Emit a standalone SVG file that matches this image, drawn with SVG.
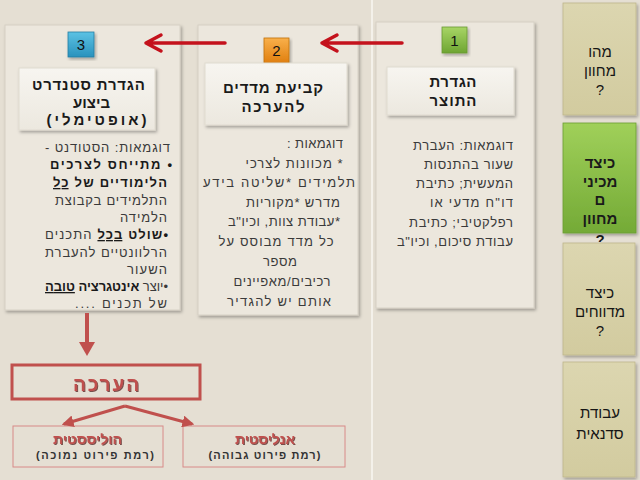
<svg xmlns="http://www.w3.org/2000/svg" width="640" height="480" viewBox="0 0 640 480">
<defs>
<style>
.t{font-family:"Liberation Sans","DejaVu Sans",Arial,sans-serif}
.r{direction:rtl;text-anchor:start}
.m{text-anchor:middle;direction:rtl}
.body{font-size:13px;fill:#3a3a3a}
.ttl{font-size:15px;font-weight:bold;fill:#1a1a1a}
.tab{font-size:15px;fill:#151515}
.num{font-size:15px;fill:#111;text-anchor:middle}
.b{font-weight:bold;fill:#1a1a1a}
.u{text-decoration:underline}
.red{fill:#c0504d;font-weight:bold}
.sub{font-size:11px;font-weight:bold;fill:#333}
.panel{fill:#ece7dd;stroke:#d6d0c4;stroke-width:1}
.tbox{fill:url(#gTitle);stroke:#e0dbd0;stroke-width:1}
.arrowTop{stroke:#c4121c;stroke-width:3.5;fill:none;stroke-linecap:round;stroke-linejoin:round}
.arrowB{stroke:#c0504d;stroke-width:3;fill:none}
</style>
<linearGradient id="gTitle" x1="0" y1="0" x2="0" y2="1">
<stop offset="0" stop-color="#f7f5f0"/><stop offset="1" stop-color="#ece8df"/>
</linearGradient>
<linearGradient id="gTab" x1="0" y1="0" x2="0" y2="1">
<stop offset="0" stop-color="#dcd6b0"/><stop offset="1" stop-color="#d2cb9f"/>
</linearGradient>
<linearGradient id="gGreenTab" x1="0" y1="0" x2="0" y2="1">
<stop offset="0" stop-color="#a0d05a"/><stop offset="1" stop-color="#74aa36"/>
</linearGradient>
<linearGradient id="gB1" x1="0" y1="0" x2="0" y2="1">
<stop offset="0" stop-color="#a8d566"/><stop offset="1" stop-color="#6ea532"/>
</linearGradient>
<linearGradient id="gB2" x1="0" y1="0" x2="0" y2="1">
<stop offset="0" stop-color="#f9b04a"/><stop offset="1" stop-color="#e07f10"/>
</linearGradient>
<linearGradient id="gB3" x1="0" y1="0" x2="0" y2="1">
<stop offset="0" stop-color="#5cc2e4"/><stop offset="1" stop-color="#2a92bd"/>
</linearGradient>
<filter id="sh" x="-10%" y="-10%" width="125%" height="125%">
<feDropShadow dx="1.5" dy="2" stdDeviation="1.5" flood-color="#000" flood-opacity="0.3"/>
</filter>
<filter id="tsh" x="-10%" y="-20%" width="130%" height="150%">
<feDropShadow dx="1" dy="1" stdDeviation="0.5" flood-color="#4a0c0c" flood-opacity="0.7"/>
</filter>
<marker id="mh" viewBox="0 0 10 10" refX="8" refY="5" markerWidth="4" markerHeight="4" orient="auto" markerUnits="strokeWidth">
<path d="M0,0 L10,5 L0,10 z" fill="#c0504d"/>
</marker>
</defs>

<rect x="0" y="0" width="640" height="480" fill="#e5dfd3"/>
<rect x="371" y="0" width="2" height="480" fill="#f4f1ea"/>

<!-- Column 1 -->
<g id="col1">
<rect class="panel" x="376" y="22" width="158" height="286" filter="url(#sh)"/>
<rect x="442" y="27" width="25" height="26" fill="url(#gB1)" stroke="#6a9a34" stroke-width="0.8" filter="url(#sh)"/>
<text class="t num" x="454.5" y="46">1</text>
<rect class="tbox" x="387" y="67" width="127" height="48" filter="url(#sh)"/>
<text class="t ttl m" x="453" y="87" textLength="47">הגדרת</text>
<text class="t ttl m" x="453" y="106" textLength="47">התוצר</text>
<text class="t body r" x="513" y="150" textLength="100">דוגמאות: העברת</text>
<text class="t body r" x="513" y="169" textLength="89">שעור בהתנסות</text>
<text class="t body r" x="513" y="188" textLength="97">המעשית; כתיבת</text>
<text class="t body r" x="513" y="207" textLength="83">דו"ח  מדעי או</text>
<text class="t body r" x="513" y="227" textLength="104">רפלקטיבי; כתיבת</text>
<text class="t body r" x="513" y="246" textLength="116">עבודת סיכום, וכיו"ב</text>
</g>

<!-- Column 2 -->
<g id="col2">
<rect class="panel" x="198" y="25" width="160" height="290" filter="url(#sh)"/>
<rect x="264" y="38" width="25" height="25" fill="url(#gB2)" stroke="#c0700c" stroke-width="0.8" filter="url(#sh)"/>
<text class="t num" x="276.5" y="56">2</text>
<rect class="tbox" x="205" y="63" width="142" height="62" filter="url(#sh)"/>
<text class="t ttl m" x="273" y="93" textLength="100">קביעת מדדים</text>
<text class="t ttl m" x="273" y="112" textLength="63">להערכה</text>
<text class="t body m" x="315" y="148" textLength="56">דוגמאות :</text>
<text class="t body m" x="294" y="168" textLength="97">* מכוונות לצרכי</text>
<text class="t body m" x="279" y="187" textLength="152">תלמידים *שליטה בידע</text>
<text class="t body m" x="293" y="207" textLength="94">מדרש  *מקוריות</text>
<text class="t body m" x="284" y="226" textLength="112">*עבודת צוות,  וכיו"ב</text>
<text class="t body m" x="276" y="246" textLength="115">כל מדד מבוסס על</text>
<text class="t body m" x="280" y="266" textLength="34">מספר</text>
<text class="t body m" x="282" y="286" textLength="97">רכיבים/מאפיינים</text>
<text class="t body m" x="279" y="306" textLength="104">אותם יש להגדיר</text>
</g>

<!-- Column 3 -->
<g id="col3">
<rect class="panel" x="5" y="25" width="175" height="285" filter="url(#sh)"/>
<rect x="68" y="32" width="26" height="25" fill="url(#gB3)" stroke="#237ea3" stroke-width="0.8" filter="url(#sh)"/>
<text class="t num" x="81" y="50">3</text>
<rect class="tbox" x="19" y="68" width="136" height="62" filter="url(#sh)"/>
<text class="t ttl m" x="88.5" y="90" textLength="113">הגדרת סטנדרט</text>
<text class="t ttl m" x="91.5" y="108" textLength="37">ביצוע</text>
<text class="t ttl m" x="96.5" y="125" textLength="100">(אופטימלי)</text>
<text class="t body r" x="170" y="152" textLength="125">דוגמאות: הסטודנט -</text>
<text class="t body r b" x="172" y="169" textLength="122">• מתייחס לצרכים</text>
<text class="t body r b" x="167" y="187" textLength="114">הלימודיים של <tspan class="u">כל</tspan></text>
<text class="t body r" x="167" y="205" textLength="112">התלמידים בקבוצת</text>
<text class="t body r" x="167" y="222" textLength="47">הלמידה</text>
<text class="t body r" x="168" y="239" textLength="123"><tspan class="b">•שולט <tspan class="u">בכל</tspan></tspan> התכנים</text>
<text class="t body r" x="167" y="257" textLength="122">הרלוונטיים להעברת</text>
<text class="t body r" x="167" y="274" textLength="40">השעור</text>
<text class="t body r" x="168" y="291" textLength="123">•יוצר  <tspan class="b">אינטגרציה <tspan class="u">טובה</tspan></tspan></text>
<text class="t body r" x="167" y="308" textLength="92">של תכנים ....</text>
</g>

<!-- Right tabs -->
<g id="tab1">
<rect x="563" y="3" width="73" height="112" fill="url(#gTab)" stroke="#bdb68c" stroke-width="0.8" filter="url(#sh)"/>
<text class="t tab m" x="600" y="57">מהו</text>
<text class="t tab m" x="600" y="76">מחוון</text>
<text class="t tab m" x="600" y="95">?</text>
</g>
<g id="tab2">
<rect x="563" y="123" width="73" height="110" fill="url(#gGreenTab)" stroke="#6a9d33" stroke-width="0.8" filter="url(#sh)"/>
<text class="t tab m b" x="600" y="168">כיצד</text>
<text class="t tab m b" x="600" y="187">מכיני</text>
<text class="t tab m b" x="600" y="205">ם</text>
<text class="t tab m b" x="600" y="224">מחוון</text>
<text class="t tab m b" x="600" y="245">?</text>
</g>
<g id="tab3">
<rect x="563" y="243" width="72" height="112" fill="url(#gTab)" stroke="#bdb68c" stroke-width="0.8" filter="url(#sh)"/>
<text class="t tab m" x="600" y="298">כיצד</text>
<text class="t tab m" x="600" y="317">מדווחים</text>
<text class="t tab m" x="600" y="336">?</text>
</g>
<g id="tab4">
<rect x="563" y="362" width="72" height="115" fill="url(#gTab)" stroke="#bdb68c" stroke-width="0.8" filter="url(#sh)"/>
<text class="t tab m" x="600" y="418">עבודת</text>
<text class="t tab m" x="600" y="439">סדנאית</text>
</g>

<!-- Bottom nodes -->
<g id="assess">
<rect x="12" y="365" width="188" height="34" fill="none" stroke="#c0504d" stroke-width="3"/>
<text class="t m red" x="106" y="391" font-size="19" textLength="66" filter="url(#tsh)">הערכה</text>
</g>
<g id="holistic">
<rect x="13" y="426" width="150" height="41" fill="none" stroke="#d88a88" stroke-width="1"/>
<text class="t m red" x="87.5" y="444" font-size="14" textLength="69" filter="url(#tsh)">הוליססטית</text>
<text class="t m sub" x="95" y="459" textLength="118">(רמת פירוט נמוכה)</text>
</g>
<g id="analytic">
<rect x="183" y="426" width="162" height="41" fill="none" stroke="#d88a88" stroke-width="1"/>
<text class="t m red" x="265" y="444" font-size="14" textLength="60" filter="url(#tsh)">אנליסטית</text>
<text class="t m sub" x="264.5" y="459" textLength="112">(רמת פירוט גבוהה)</text>
</g>

<!-- Connectors -->
<g id="connectors">
<path class="arrowTop" d="M402,43 L322,43 M337,35 L322,43 L337,51"/>
<path class="arrowTop" d="M225,43 L146,43 M161,35 L146,43 L161,51"/>
<line x1="87" y1="313" x2="87" y2="343" stroke="#c0504d" stroke-width="4"/>
<path d="M79,342 L95,342 L87,356 z" fill="#c0504d"/>
<line class="arrowB" x1="125" y1="406" x2="64" y2="424" marker-end="url(#mh)"/>
<line class="arrowB" x1="125" y1="406" x2="192" y2="424" marker-end="url(#mh)"/>
</g>
</svg>
